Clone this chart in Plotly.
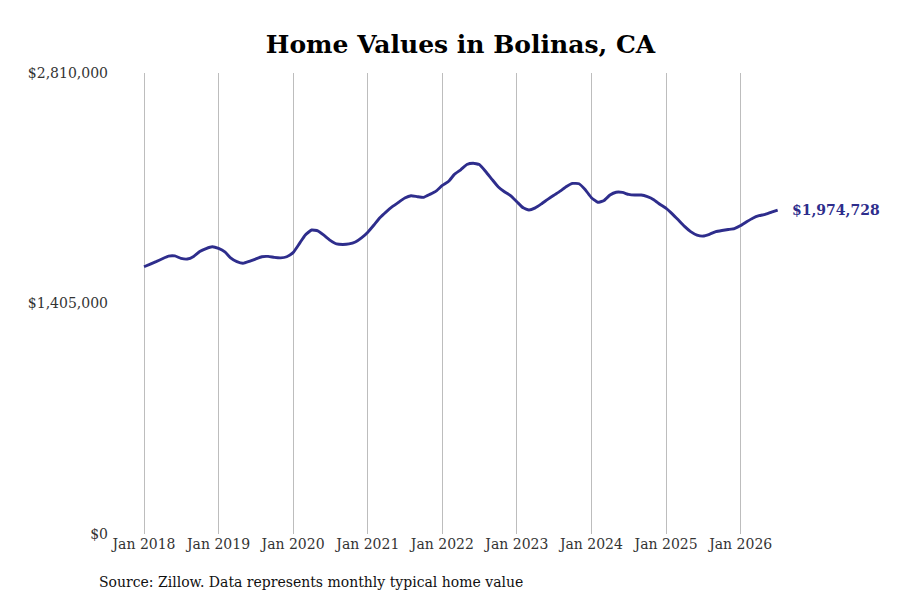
import plotly.graph_objects as go
import pandas as pd

# Monthly typical home value, Jan 2018 – Jul 2026
start_month = "2018-01-01"
values = [
    1629000, 1645000, 1660000, 1678000, 1694000, 1695000, 1680000, 1676000, 1692000, 1722000, 1740000, 1751000,  # 2018
    1741000, 1720000, 1683000, 1660000, 1650000, 1662000, 1676000, 1690000, 1692000, 1686000, 1683000, 1690000,  # 2019
    1715000, 1770000, 1823000, 1853000, 1848000, 1820000, 1790000, 1768000, 1765000, 1768000, 1780000, 1805000,  # 2020
    1840000, 1885000, 1928000, 1964000, 1995000, 2022000, 2048000, 2062000, 2056000, 2052000, 2070000, 2090000,  # 2021
    2125000, 2150000, 2192000, 2220000, 2252000, 2260000, 2252000, 2210000, 2162000, 2117000, 2086000, 2062000,  # 2022
    2025000, 1988000, 1975000, 1988000, 2012000, 2040000, 2065000, 2090000, 2118000, 2137000, 2135000, 2100000,  # 2023
    2050000, 2022000, 2031000, 2066000, 2083000, 2082000, 2070000, 2066000, 2066000, 2056000, 2038000, 2010000,  # 2024
    1985000, 1950000, 1915000, 1875000, 1843000, 1822000, 1816000, 1827000, 1843000, 1850000, 1856000, 1862000,  # 2025
    1880000, 1905000, 1925000, 1940000, 1948000, 1962000, 1974728,                                              # 2026
]
dates = pd.date_range(start_month, periods=len(values), freq="MS")

tick_dates = pd.date_range("2018-01-01", "2026-01-01", freq="YS")
tick_labels = [f"Jan {d.year}" for d in tick_dates]
y_ticks = [0, 1405000, 2810000]
y_labels = ["$0", "$1,405,000", "$2,810,000"]

title_text = "Home Values in Bolinas, CA"
source_text = "Source: Zillow. Data represents monthly typical home value"
line_color = "#2e2d8c"
font_family = "DejaVu Serif"

fig = go.Figure()
fig.add_trace(go.Scatter(
    x=dates, y=values, mode="lines",
    line=dict(color=line_color, width=2.9, shape="spline", smoothing=0.4),
    hoverinfo="skip", showlegend=False,
))

fig.add_annotation(
    x=dates[-1], y=values[-1], xref="x", yref="y",
    text=f"<b>${values[-1]:,.0f}</b>", showarrow=False,
    xanchor="left", yanchor="middle", xshift=12,
    font=dict(family=font_family, size=14, color=line_color),
)
fig.add_annotation(
    x=-0.027, y=-0.104, xref="paper", yref="paper",
    text=source_text, showarrow=False,
    xanchor="left", yanchor="middle",
    font=dict(family=font_family, size=14, color="#111111"),
)

fig.update_layout(
    width=892, height=592,
    margin=dict(l=107, r=115, t=65, b=66),
    paper_bgcolor="white", plot_bgcolor="white",
    title=dict(text=f"<b>{title_text}</b>", x=0.5073, xanchor="center",
               y=0.939, yanchor="middle",
               font=dict(family=font_family, size=25, color="#000000")),
    font=dict(family=font_family, size=14, color="#333333"),
)
fig.update_xaxes(
    range=["2017-08-12", "2026-08-06"],
    tickvals=tick_dates, ticktext=tick_labels,
    showgrid=True, gridcolor="#bdbdbd", gridwidth=1,
    showline=False, zeroline=False, ticks="",
    tickfont=dict(family=font_family, size=14, color="#333333"),
)
fig.update_yaxes(
    range=[0, 2810000],
    tickvals=y_ticks, ticktext=y_labels,
    showgrid=False, zeroline=False, showline=False, ticks="",
    ticklabelstandoff=6,
    tickfont=dict(family=font_family, size=14, color="#333333"),
)

fig.write_html("out.html")
